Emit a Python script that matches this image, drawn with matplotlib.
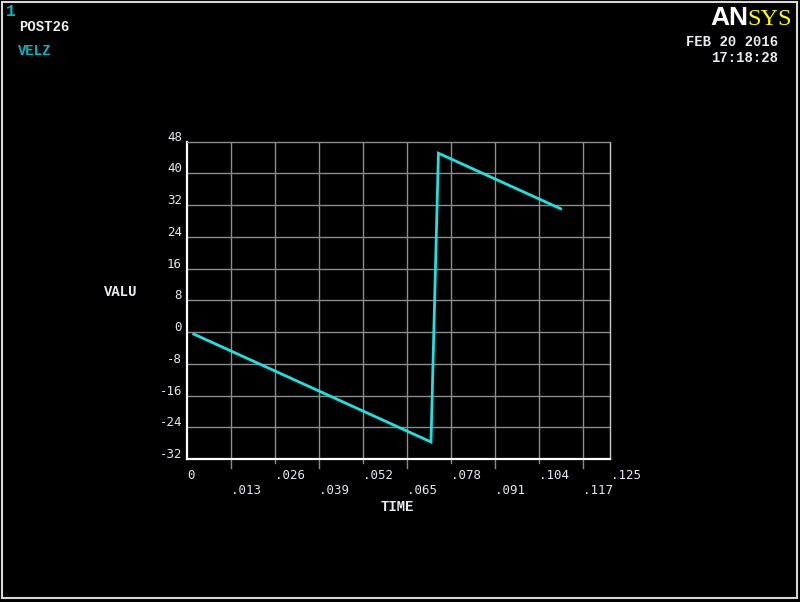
import matplotlib
matplotlib.use('Agg')
import matplotlib.pyplot as plt
from matplotlib.transforms import blended_transform_factory, ScaledTranslation
from matplotlib.patches import Rectangle

# ---- data ----
time_s = [0.002, 0.0721, 0.0743, 0.1104]
velz = [-0.5, -27.7, 45.1, 31.1]
x_ticks = [0, 0.013, 0.026, 0.039, 0.052, 0.065, 0.078, 0.091, 0.104, 0.117, 0.125]
x_labels = ['0', '.013', '.026', '.039', '.052', '.065', '.078', '.091', '.104', '.117', '.125']
y_ticks = [-32, -24, -16, -8, 0, 8, 16, 24, 32, 40, 48]
y_labels = ['-32', '-24', '-16', '-8', '0', '8', '16', '24', '32', '40', '48']

W, H = 800, 602
fig = plt.figure(figsize=(W / 100, H / 100), dpi=100, facecolor='black')


def fx(px):
    return px / W


def fy(py):
    return 1 - py / H


AX_L, AX_R, AX_T, AX_B = 187, 610, 141.7, 459
ax = fig.add_axes([fx(AX_L), fy(AX_B), (AX_R - AX_L) / W, (AX_B - AX_T) / H])
ax.set_facecolor('black')
ax.set_xlim(x_ticks[0], x_ticks[-1])
ax.set_ylim(y_ticks[0], y_ticks[-1])
ax.set_xticks([])
ax.set_yticks([])

grid_c = '#8c8c8c'
for v in x_ticks[1:-1]:
    ax.axvline(v, color=grid_c, lw=1.0, zorder=1)
for v in y_ticks[1:-1]:
    ax.axhline(v, color=grid_c, lw=1.0, zorder=1)

ax.spines['left'].set_color('white')
ax.spines['left'].set_linewidth(1.6)
ax.spines['bottom'].set_color('white')
ax.spines['bottom'].set_linewidth(1.6)
ax.spines['top'].set_color(grid_c)
ax.spines['top'].set_linewidth(1.0)
ax.spines['right'].set_color('#c8c8c8')
ax.spines['right'].set_linewidth(1.0)

ax.plot(time_s, velz, color='#19e3e3', lw=2.0, zorder=3, solid_joinstyle='miter')

axh_px = AX_B - AX_T
bt = blended_transform_factory(ax.transData, ax.transAxes)
tick_font = dict(family='DejaVu Sans Mono', size=9, color='#e4e8f2')
for i, (v, lab) in enumerate(zip(x_ticks, x_labels)):
    if 0 < i < len(x_ticks) - 1:
        ln = 9 if i % 2 == 1 else 4
        ax.plot([v, v], [0, -ln / axh_px], transform=bt, color=grid_c,
                lw=1.0, clip_on=False)
    dy = 20 if i % 2 == 0 else 35
    tr = bt + ScaledTranslation(0.5 / 100, -dy / 100, fig.dpi_scale_trans)
    ax.text(v, 0, lab, transform=tr, ha='left', va='baseline', **tick_font)

bty = blended_transform_factory(ax.transAxes, ax.transData)
for v, lab in zip(y_ticks, y_labels):
    tr = bty + ScaledTranslation(-5 / 100, 1 / 100, fig.dpi_scale_trans)
    ax.text(0, v, lab, transform=tr, ha='right', va='baseline', **tick_font)

# ---- annotations ----
mono = dict(family='Liberation Mono', weight='bold', size=10)
fig.text(fx(120.5), fy(291.5), 'VALU', ha='center', va='center', color='#e8ecf4', **mono)
fig.text(fx(397), fy(507), 'TIME', ha='center', va='center', color='#e8ecf4', **mono)
fig.text(fx(19), fy(27), 'POST26', ha='left', va='center', color='#f0f0f0', **mono)
fig.text(fx(18), fy(51), 'VELZ', ha='left', va='center', color='#00b8c4', **mono)
fig.text(fx(6), fy(11.5), '1', ha='left', va='center', color='#00b8c4',
         family='Liberation Mono', weight='bold', size=12)
fig.text(fx(778), fy(42), 'FEB 20 2016', ha='right', va='center', color='#e8ecf4', **mono)
fig.text(fx(778), fy(57.5), '17:18:28', ha='right', va='center', color='#e8ecf4', **mono)

fig.text(fx(748), fy(25), 'AN', ha='right', va='baseline', color='white',
         family='Liberation Sans', weight='bold', size=19)
fig.text(fx(747), fy(25), 'SYS', ha='left', va='baseline', color='#ffff00',
         family='Liberation Serif', size=17.5)

fig.patches.append(Rectangle((fx(1.5), fy(597.5)), (797 - 1.5) / W, (597.5 - 1.5) / H,
                             transform=fig.transFigure, fill=False,
                             ec='#d8d8d8', lw=1.5))

fig.savefig('out.png', dpi=100, facecolor='black')
